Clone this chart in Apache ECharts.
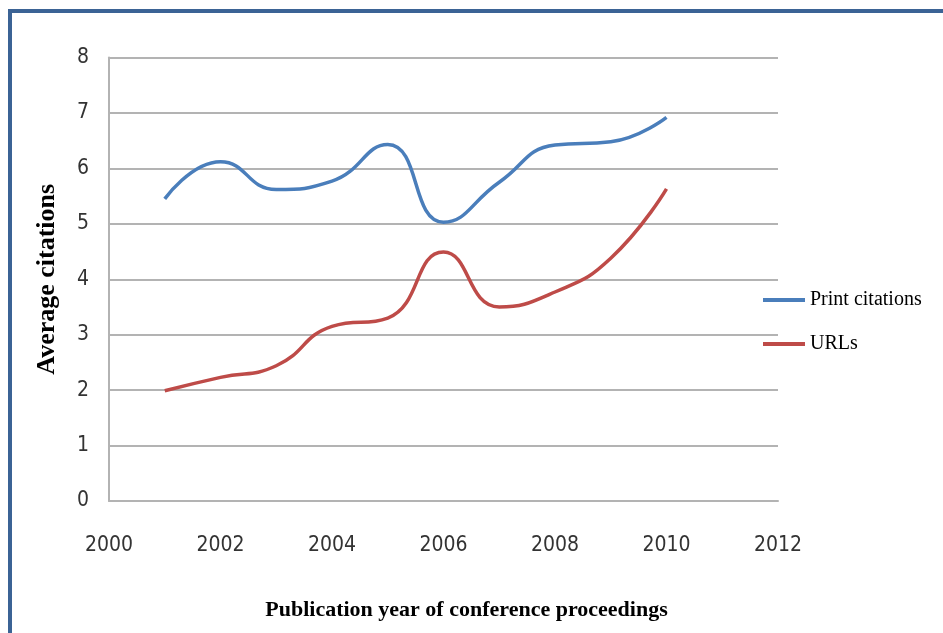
<!DOCTYPE html>
<html>
<head>
<meta charset="utf-8">
<script src="https://cdn.jsdelivr.net/npm/echarts@6/dist/echarts.min.js"></script>
<style>
html,body{margin:0;padding:0;background:#fff;}
#chart{width:943px;height:633px;}
</style>
</head>
<body>
<div id="chart"></div>
<script>
const years = [2001, 2002, 2003, 2004, 2005, 2006, 2007, 2008, 2009, 2010];
const printCitations = [5.45, 6.12, 5.62, 5.77, 6.43, 5.03, 5.75, 6.42, 6.48, 6.92];
const urls = [1.99, 2.23, 2.44, 3.15, 3.3, 4.49, 3.5, 3.77, 4.38, 5.63];
const xTicks = [2000, 2002, 2004, 2006, 2008, 2010, 2012];
const yTicks = [0, 1, 2, 3, 4, 5, 6, 7, 8];
const seriesNames = ['Print citations', 'URLs'];
const xTitle = 'Publication year of conference proceedings';
const yTitle = 'Average citations';

const tickFont = '"DejaVu Sans Condensed", "Liberation Sans", sans-serif';
const chart = echarts.init(document.getElementById('chart'), null, {renderer: 'canvas'});
chart.setOption({
  animation: false,
  backgroundColor: '#ffffff',
  grid: {left: 109, right: 165, top: 57.5, bottom: 132, containLabel: false},
  graphic: [{
    type: 'polyline',
    shape: {points: [[10, 640], [10, 11], [950, 11]]},
    style: {stroke: '#3b6395', lineWidth: 4, fill: null}
  }],
  legend: {
    orient: 'vertical',
    left: 758,
    top: 285,
    icon: 'rect',
    itemWidth: 42,
    itemHeight: 4,
    itemGap: 24,
    textStyle: {fontFamily: '"Liberation Serif", serif', fontSize: 20, color: '#000'},
    data: seriesNames
  },
  xAxis: {
    type: 'value',
    min: xTicks[0],
    max: xTicks[xTicks.length - 1],
    interval: 2,
    name: xTitle,
    nameLocation: 'middle',
    nameGap: 98,
    nameTextStyle: {fontFamily: '"Liberation Serif", serif', fontWeight: 'bold', fontSize: 22, color: '#000', padding: [0, 0, 0, 46]},
    axisLine: {show: true, lineStyle: {color: '#b3b3b3', width: 2}},
    axisTick: {show: false},
    splitLine: {show: false},
    axisLabel: {margin: 34, fontFamily: tickFont, fontSize: 21, color: '#333',
      formatter: v => String(v)}
  },
  yAxis: {
    type: 'value',
    min: yTicks[0],
    max: yTicks[yTicks.length - 1],
    interval: 1,
    name: yTitle,
    nameLocation: 'middle',
    nameGap: 49,
    nameTextStyle: {fontFamily: '"Liberation Serif", serif', fontWeight: 'bold', fontSize: 26, color: '#000'},
    axisLine: {show: true, lineStyle: {color: '#b3b3b3', width: 2}},
    axisTick: {show: false},
    splitLine: {show: true, lineStyle: {color: '#b3b3b3', width: 2}},
    axisLabel: {margin: 20, fontFamily: tickFont, fontSize: 21, color: '#333'}
  },
  series: [
    {
      name: seriesNames[0],
      type: 'line',
      smooth: 0.5,
      symbol: 'none',
      data: years.map((y, i) => [y, printCitations[i]]),
      lineStyle: {color: '#4a7ebb', width: 3.5},
      itemStyle: {color: '#4a7ebb'}
    },
    {
      name: seriesNames[1],
      type: 'line',
      smooth: 0.5,
      symbol: 'none',
      data: years.map((y, i) => [y, urls[i]]),
      lineStyle: {color: '#be4b48', width: 3.5},
      itemStyle: {color: '#be4b48'}
    }
  ]
});
</script>
</body>
</html>
